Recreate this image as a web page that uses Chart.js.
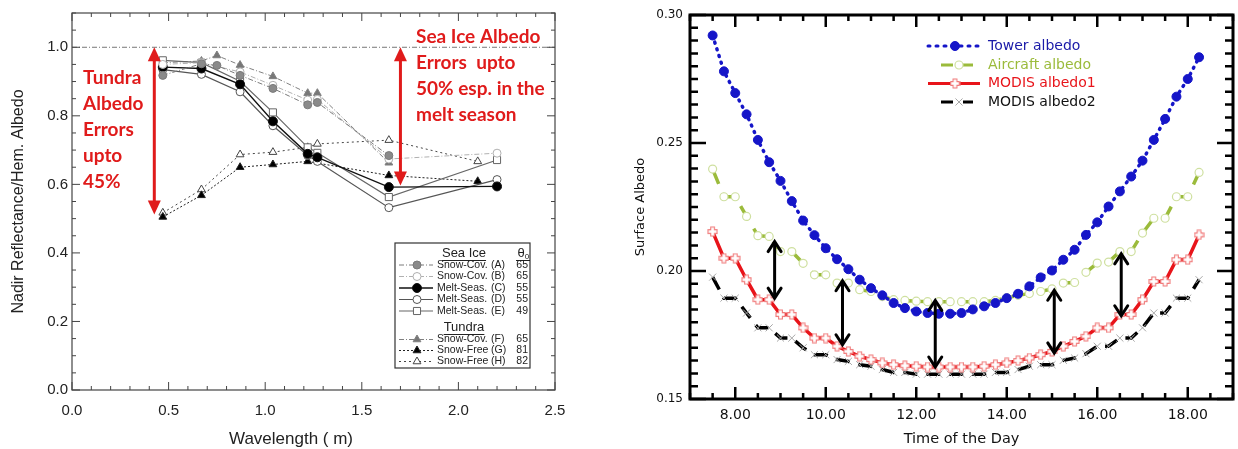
<!DOCTYPE html>
<html>
<head>
<meta charset="utf-8">
<script src="https://cdn.jsdelivr.net/npm/chart.js@4"></script>
<style>
  body { margin: 0; background: #fff; width: 1238px; height: 449px; overflow: hidden; position: relative; }
  canvas { position: absolute; top: 0; }
  #specChart { left: 0; width: 600px; height: 449px; }
  #dayChart { left: 600px; width: 638px; height: 449px; }
</style>
</head>
<body>
<canvas id="specChart" width="600" height="449"></canvas>
<canvas id="dayChart" width="638" height="449"></canvas>
<script>
// ---- spectral albedo: sea ice (A-E) and tundra (F-H) ----
const wlSeaA = [0.47, 0.67, 0.75, 0.87, 1.04, 1.22, 1.27, 1.64];
const albSeaA = [0.918, 0.952, 0.947, 0.918, 0.880, 0.832, 0.839, 0.684];
const wlSea = [0.47, 0.67, 0.87, 1.04, 1.22, 1.27, 1.64, 2.2];
const albSeaB = [0.950, 0.955, 0.928, 0.889, 0.846, 0.848, 0.674, 0.691];
const albSeaC = [0.942, 0.938, 0.892, 0.784, 0.689, 0.679, 0.592, 0.594];
const albSeaD = [0.935, 0.921, 0.870, 0.771, 0.684, 0.667, 0.532, 0.614];
const albSeaE = [0.962, 0.955, 0.901, 0.810, 0.708, 0.692, 0.563, 0.671];
const wlTundF = [0.47, 0.67, 0.75, 0.87, 1.04, 1.22, 1.27, 1.64];
const albTundF = [0.955, 0.960, 0.976, 0.948, 0.915, 0.866, 0.866, 0.663];
const wlTundG = [0.47, 0.67, 0.87, 1.04, 1.22, 1.64, 2.1];
const albTundG = [0.505, 0.568, 0.650, 0.658, 0.667, 0.626, 0.609];
const wlTundH = [0.47, 0.67, 0.87, 1.04, 1.22, 1.27, 1.64, 2.1];
const albTundH = [0.517, 0.585, 0.687, 0.694, 0.708, 0.718, 0.729, 0.667];

const specXTicks = [0.0, 0.5, 1.0, 1.5, 2.0, 2.5];
const specYTicks = [0.0, 0.2, 0.4, 0.6, 0.8, 1.0];

const legendNames = ['Snow-Cov.', 'Snow-Cov.', 'Melt-Seas.', 'Melt-Seas.', 'Melt-Seas.', 'Snow-Cov.', 'Snow-Free', 'Snow-Free'];
const legendTags = ['(A)', '(B)', '(C)', '(D)', '(E)', '(F)', '(G)', '(H)'];
const legendAngles = ['65', '65', '55', '55', '49', '65', '81', '82'];

// error ranges marked with red arrows (wavelength, top, bottom)
const errWl = [0.426, 1.70];
const errTop = [1.0, 1.0];
const errBottom = [0.512, 0.597];
const tundraNote = ['Tundra', 'Albedo', 'Errors', 'upto', '45%'];
const seaIceNote = ['Sea Ice Albedo', 'Errors  upto', '50% esp. in the', 'melt season'];

// ---- diurnal albedo ----
const hours = [7.5, 7.75, 8.0, 8.25, 8.5, 8.75, 9.0, 9.25, 9.5, 9.75,
  10.0, 10.25, 10.5, 10.75, 11.0, 11.25, 11.5, 11.75, 12.0, 12.25,
  12.5, 12.75, 13.0, 13.25, 13.5, 13.75, 14.0, 14.25, 14.5, 14.75,
  15.0, 15.25, 15.5, 15.75, 16.0, 16.25, 16.5, 16.75, 17.0, 17.25,
  17.5, 17.75, 18.0, 18.25];
const towerAlbedo = [0.2920, 0.2780, 0.2695, 0.2612, 0.2512, 0.2425, 0.2352, 0.2273, 0.2197, 0.2140,
  0.2089, 0.2046, 0.2007, 0.1966, 0.1933, 0.1905, 0.1875, 0.1855, 0.1842, 0.1836,
  0.1833, 0.1833, 0.1836, 0.1850, 0.1862, 0.1875, 0.1894, 0.1911, 0.1940, 0.1975,
  0.2002, 0.2044, 0.2083, 0.2141, 0.2190, 0.2252, 0.2311, 0.2369, 0.2431, 0.2512,
  0.2594, 0.2681, 0.2750, 0.2835];
const aircraftAlbedo = [0.2398, 0.2290, 0.2290, 0.2213, 0.2138, 0.2135, 0.2076, 0.2076, 0.2030, 0.1985,
  0.1985, 0.1953, 0.1953, 0.1927, 0.1920, 0.1900, 0.1888, 0.1885, 0.1882, 0.1880,
  0.1880, 0.1880, 0.1880, 0.1880, 0.1880, 0.1885, 0.1895, 0.1905, 0.1912, 0.1920,
  0.1930, 0.1953, 0.1955, 0.1995, 0.2031, 0.2035, 0.2076, 0.2076, 0.2148, 0.2206,
  0.2206, 0.2290, 0.2290, 0.2385];
const modisAlbedo1 = [0.2154, 0.2050, 0.2050, 0.1966, 0.1888, 0.1888, 0.1830, 0.1830, 0.1778, 0.1738,
  0.1738, 0.1706, 0.1686, 0.1667, 0.1654, 0.1641, 0.1634, 0.1630, 0.1628, 0.1625,
  0.1625, 0.1625, 0.1625, 0.1625, 0.1628, 0.1634, 0.1641, 0.1650, 0.1660, 0.1673,
  0.1686, 0.1706, 0.1725, 0.1745, 0.1778, 0.1778, 0.1830, 0.1830, 0.1888, 0.1959,
  0.1959, 0.2044, 0.2044, 0.2141];
const modisAlbedo2 = [0.1976, 0.1894, 0.1894, 0.1836, 0.1778, 0.1778, 0.1738, 0.1738, 0.1700, 0.1673,
  0.1673, 0.1654, 0.1647, 0.1634, 0.1628, 0.1615, 0.1604, 0.1604, 0.1597, 0.1597,
  0.1597, 0.1597, 0.1597, 0.1597, 0.1597, 0.1604, 0.1604, 0.1615, 0.1628, 0.1634,
  0.1634, 0.1651, 0.1660, 0.1677, 0.1706, 0.1706, 0.1738, 0.1738, 0.1778, 0.1836,
  0.1836, 0.1894, 0.1894, 0.1966];

const dayXTicks = [8, 10, 12, 14, 16, 18];
const dayYTicks = [0.15, 0.20, 0.25, 0.30];
const seriesNames = ['Tower albedo', 'Aircraft albedo', 'MODIS albedo1', 'MODIS albedo2'];

// gaps between aircraft and MODIS1 (hour, upper, lower)
const gapHours = [8.87, 10.37, 12.42, 15.05, 16.53];
const gapTop = [0.2115, 0.1962, 0.1885, 0.1925, 0.2067];
const gapBottom = [0.1894, 0.1712, 0.1625, 0.1680, 0.1825];

const pts = (xs, ys) => xs.map((x, i) => ({ x: x, y: ys[i] }));

function arrow(ctx, x, y1, y2, head, halfW, filled) {
  ctx.beginPath();
  ctx.moveTo(x, y1 + (filled ? head * 0.6 : 1));
  ctx.lineTo(x, y2 - (filled ? head * 0.6 : 1));
  ctx.stroke();
  [[y1, 1], [y2, -1]].forEach(([y, d]) => {
    ctx.beginPath();
    ctx.moveTo(x - halfW, y + d * head);
    ctx.lineTo(x, y);
    ctx.lineTo(x + halfW, y + d * head);
    if (filled) { ctx.closePath(); ctx.fill(); } else { ctx.stroke(); }
  });
}

function marker(ctx, ds, x, y) {
  ctx.save();
  ctx.fillStyle = ds.pointBackgroundColor;
  ctx.strokeStyle = ds.pointBorderColor;
  ctx.lineWidth = ds.pointBorderWidth;
  Chart.helpers.drawPoint(ctx, {
    pointStyle: ds.pointStyle, rotation: 0, radius: ds.pointRadius, borderWidth: ds.pointBorderWidth
  }, x, y);
  ctx.restore();
}

// ---- left panel: frame, 1.0 reference, arrows, notes and legend ----
const specFrame = {
  id: 'specFrame',
  beforeDatasetsDraw(chart) {
    const { ctx, chartArea: a, scales: { y } } = chart;
    const py = y.getPixelForValue(1.0);
    ctx.save();
    ctx.strokeStyle = '#777';
    ctx.lineWidth = 1;
    ctx.setLineDash([5, 2, 1, 2]);
    ctx.beginPath();
    ctx.moveTo(a.left, py);
    ctx.lineTo(a.right, py);
    ctx.stroke();
    ctx.restore();
  },
  afterDraw(chart) {
    const { ctx, chartArea: a, scales: { x, y } } = chart;
    ctx.save();
    ctx.strokeStyle = '#444';
    ctx.lineWidth = 1.2;
    ctx.strokeRect(a.left, a.top, a.right - a.left, a.bottom - a.top);
    ctx.lineWidth = 1;
    for (let i = 0; i <= 25; i++) {
      const px = x.getPixelForValue(i / 10);
      const len = i % 5 === 0 ? 8 : 4;
      ctx.beginPath();
      ctx.moveTo(px, a.bottom); ctx.lineTo(px, a.bottom - len);
      ctx.moveTo(px, a.top); ctx.lineTo(px, a.top + len);
      ctx.stroke();
    }
    for (let i = 0; i <= 22; i++) {
      const py = y.getPixelForValue(i / 20);
      const len = i % 4 === 0 ? 8 : 4;
      ctx.beginPath();
      ctx.moveTo(a.left, py); ctx.lineTo(a.left + len, py);
      ctx.moveTo(a.right, py); ctx.lineTo(a.right - len, py);
      ctx.stroke();
    }

    // red error arrows
    ctx.strokeStyle = '#e01b1b';
    ctx.fillStyle = '#e01b1b';
    ctx.lineWidth = 3;
    errWl.forEach((w, i) => {
      arrow(ctx, x.getPixelForValue(w), y.getPixelForValue(errTop[i]), y.getPixelForValue(errBottom[i]), 14, 6.5, true);
    });
    ctx.font = 'bold 19px Lato';
    ctx.textBaseline = 'middle';
    ctx.textAlign = 'left';
    tundraNote.forEach((t, i) => ctx.fillText(t, 83, 78 + i * 26));
    seaIceNote.forEach((t, i) => ctx.fillText(t, 416, 37 + i * 26));

    // x axis title, centred under the labelled part of the axis
    ctx.fillStyle = '#222';
    ctx.font = '17px "Liberation Sans"';
    ctx.textAlign = 'center';
    ctx.fillText('Wavelength ( m)', 291, 439);

    // legend box
    const bx = 395, by = 243, bw = 135, bh = 125;
    ctx.fillStyle = '#fff';
    ctx.fillRect(bx, by, bw, bh);
    ctx.strokeStyle = '#333';
    ctx.lineWidth = 1.2;
    ctx.strokeRect(bx, by, bw, bh);
    ctx.fillStyle = '#222';
    ctx.font = '13px "Liberation Sans"';
    ctx.textAlign = 'center';
    const heads = [['Sea Ice', 253], ['Tundra', 327]];
    heads.forEach(([t, hy]) => {
      ctx.fillText(t, 464, hy);
      const w = ctx.measureText(t).width;
      ctx.fillRect(464 - w / 2, hy + 7, w, 1);
    });
    ctx.fillText('\u03B8', 521, 253);
    ctx.font = '8px "Liberation Sans"';
    ctx.fillText('0', 527, 257);
    ctx.fillRect(516, 260, 14, 1);
    const rowY = [265, 276.5, 288, 299.5, 311, 339.5, 350.5, 361.5];
    ctx.font = '10.5px "Liberation Sans"';
    chart.data.datasets.forEach((ds, i) => {
      const ry = rowY[i];
      ctx.save();
      ctx.strokeStyle = ds.borderColor;
      ctx.lineWidth = ds.borderWidth;
      ctx.setLineDash(ds.borderDash || []);
      ctx.beginPath();
      ctx.moveTo(399, ry); ctx.lineTo(433, ry);
      ctx.stroke();
      ctx.restore();
      marker(ctx, ds, 417, ry);
      ctx.fillStyle = '#222';
      ctx.textAlign = 'left';
      ctx.fillText(legendNames[i], 437, ry);
      ctx.fillText(legendTags[i], 491, ry);
      ctx.textAlign = 'right';
      ctx.fillText(legendAngles[i], 528, ry);
    });
    ctx.restore();
  }
};

const specSeries = (label, xs, ys, color, dash, style, fill, radius, width) => ({
  label: label,
  data: pts(xs, ys),
  borderColor: color,
  borderWidth: width,
  borderDash: dash,
  pointStyle: style,
  pointRadius: radius,
  pointBackgroundColor: fill,
  pointBorderColor: color,
  pointBorderWidth: 1,
  showLine: true,
  tension: 0
});

new Chart(document.getElementById('specChart'), {
  type: 'scatter',
  data: {
    datasets: [
      specSeries('A', wlSeaA, albSeaA, '#7a7a7a', [5, 2, 1, 2], 'circle', '#8a8a8a', 4, 1),
      specSeries('B', wlSea, albSeaB, '#b0b0b0', [5, 2, 1, 2], 'circle', '#ffffff', 4, 1),
      specSeries('C', wlSea, albSeaC, '#111111', [], 'circle', '#000000', 4.5, 1.4),
      specSeries('D', wlSea, albSeaD, '#555555', [], 'circle', '#ffffff', 4, 1.2),
      specSeries('E', wlSea, albSeaE, '#666666', [], 'rect', '#ffffff', 5, 1.2),
      specSeries('F', wlTundF, albTundF, '#808080', [5, 2, 1, 2], 'triangle', '#777777', 4.5, 1),
      specSeries('G', wlTundG, albTundG, '#222222', [2, 2], 'triangle', '#000000', 4.5, 1),
      specSeries('H', wlTundH, albTundH, '#444444', [2, 3], 'triangle', '#ffffff', 4.5, 1)
    ]
  },
  options: {
    responsive: false,
    animation: false,
    layout: { padding: { top: 10, right: 45, left: 0, bottom: 0 }, autoPadding: false },
    plugins: { legend: { display: false }, tooltip: { enabled: false } },
    scales: {
      x: {
        type: 'linear', min: 0, max: 2.5,
        afterBuildTicks: s => { s.ticks = specXTicks.map(v => ({ value: v })); },
        afterFit: s => { s.height = 59; },
        grid: { display: false, drawTicks: false },
        border: { display: false },
        ticks: { padding: 12, color: '#222', font: { family: 'Liberation Sans', size: 15 }, callback: v => v.toFixed(1) },
        title: { display: false }
      },
      y: {
        type: 'linear', min: 0, max: 1.1,
        afterBuildTicks: s => { s.ticks = specYTicks.map(v => ({ value: v })); },
        afterFit: s => { s.width = 72; },
        grid: { display: false, drawTicks: false },
        border: { display: false },
        ticks: { padding: 4, color: '#222', font: { family: 'Liberation Sans', size: 15 }, callback: v => v.toFixed(1) },
        title: { display: true, text: 'Nadir Reflectance/Hem. Albedo', color: '#222', padding: { top: 9, bottom: 0 }, font: { family: 'Liberation Sans', size: 16 } }
      }
    }
  },
  plugins: [specFrame]
});

// ---- right panel ----
function hollowPlus(size, color) {
  const c = document.createElement('canvas');
  c.width = c.height = size;
  const g = c.getContext('2d');
  const m = size / 2, s = size / 2 - 1, t = size * 0.17;
  const poly = [[-t, -s], [t, -s], [t, -t], [s, -t], [s, t], [t, t], [t, s], [-t, s], [-t, t], [-s, t], [-s, -t], [-t, -t]];
  g.beginPath();
  poly.forEach(([px, py], i) => (i ? g.lineTo(m + px, m + py) : g.moveTo(m + px, m + py)));
  g.closePath();
  g.fillStyle = '#fff';
  g.fill();
  g.strokeStyle = color;
  g.lineWidth = 1.1;
  g.stroke();
  return c;
}
const plusIcon = hollowPlus(11, '#f07a7a');

const dayFrame = {
  id: 'dayFrame',
  afterDraw(chart) {
    const { ctx, chartArea: a, scales: { x, y } } = chart;
    ctx.save();
    ctx.strokeStyle = '#000';
    ctx.lineWidth = 3;
    ctx.strokeRect(a.left, a.top, a.right - a.left, a.bottom - a.top);
    ctx.lineWidth = 2.5;
    for (let i = 14; i <= 38; i++) {
      const px = x.getPixelForValue(i / 2);
      const len = i % 4 === 0 ? 12 : 6;
      ctx.beginPath();
      ctx.moveTo(px, a.bottom); ctx.lineTo(px, a.bottom - len);
      ctx.moveTo(px, a.top); ctx.lineTo(px, a.top + len);
      ctx.stroke();
    }
    for (let i = 30; i <= 60; i++) {
      const py = y.getPixelForValue(i / 200);
      const len = i % 10 === 0 ? 16 : 8;
      ctx.beginPath();
      ctx.moveTo(a.left, py); ctx.lineTo(a.left + len, py);
      ctx.moveTo(a.right, py); ctx.lineTo(a.right - len, py);
      ctx.stroke();
    }

    // double arrows between aircraft and MODIS1
    ctx.strokeStyle = '#000';
    ctx.lineWidth = 3;
    ctx.lineCap = 'round';
    gapHours.forEach((h, i) => {
      arrow(ctx, x.getPixelForValue(h), y.getPixelForValue(gapTop[i]), y.getPixelForValue(gapBottom[i]), 10, 6.5, false);
    });
    ctx.restore();

    // legend
    const rowY = [46, 65, 83.5, 102];
    const lineStart = [328, 341, 328, 341];
    const textColors = ['#1a1aa8', '#9bbb3b', '#e8141a', '#111'];
    ctx.save();
    ctx.font = '14px "DejaVu Sans"';
    ctx.textBaseline = 'middle';
    chart.data.datasets.forEach((ds, i) => {
      const ry = rowY[i];
      ctx.save();
      ctx.strokeStyle = ds.borderColor;
      ctx.lineWidth = 3;
      ctx.lineCap = i === 0 ? 'round' : 'butt';
      ctx.setLineDash(i === 0 ? [2, 6] : (i === 2 ? [] : [12, 8]));
      ctx.beginPath();
      ctx.moveTo(lineStart[i], ry); ctx.lineTo(380, ry);
      ctx.stroke();
      ctx.restore();
      const mx = i === 0 || i === 2 ? 355 : 359;
      ctx.save();
      ctx.fillStyle = '#fff';
      if (i !== 0) ctx.fillRect(mx - 4, ry - 4, 8, 8);
      ctx.restore();
      marker(ctx, ds, mx, ry);
      ctx.fillStyle = textColors[i];
      ctx.fillText(seriesNames[i], 388, ry);
    });
    ctx.restore();
  }
};

new Chart(document.getElementById('dayChart'), {
  type: 'scatter',
  data: {
    datasets: [
      {
        label: seriesNames[0], data: pts(hours, towerAlbedo), showLine: true,
        borderColor: '#1515c8', borderWidth: 3.5, borderDash: [1, 6], borderCapStyle: 'round',
        pointStyle: 'circle', pointRadius: 4.5, pointBackgroundColor: '#1515c8', pointBorderColor: '#1515c8', pointBorderWidth: 1
      },
      {
        label: seriesNames[1], data: pts(hours, aircraftAlbedo), showLine: true,
        borderColor: '#9bbb3b', borderWidth: 3.5, borderDash: [16, 10],
        pointStyle: 'circle', pointRadius: 4, pointBackgroundColor: '#ffffff', pointBorderColor: '#cfe0a0', pointBorderWidth: 1.2
      },
      {
        label: seriesNames[2], data: pts(hours, modisAlbedo1), showLine: true,
        borderColor: '#e8141a', borderWidth: 3.5, borderDash: [],
        pointStyle: plusIcon, pointRadius: 5, pointBackgroundColor: '#ffffff', pointBorderColor: '#f07a7a', pointBorderWidth: 1
      },
      {
        label: seriesNames[3], data: pts(hours, modisAlbedo2), showLine: true,
        borderColor: '#000000', borderWidth: 3.5, borderDash: [14, 9],
        pointStyle: 'crossRot', pointRadius: 5, pointBackgroundColor: '#ffffff', pointBorderColor: '#a8a8a8', pointBorderWidth: 1
      }
    ]
  },
  options: {
    responsive: false,
    animation: false,
    layout: { padding: { top: 15, right: 5, left: 0, bottom: 0 }, autoPadding: false },
    plugins: { legend: { display: false }, tooltip: { enabled: false } },
    scales: {
      x: {
        type: 'linear', min: 7, max: 19,
        afterBuildTicks: s => { s.ticks = dayXTicks.map(v => ({ value: v })); },
        afterFit: s => { s.height = 50; },
        grid: { display: false, drawTicks: false },
        border: { display: false },
        ticks: { padding: 8, color: '#111', font: { family: 'DejaVu Sans', size: 14 }, callback: v => v.toFixed(2) },
        title: { display: true, text: 'Time of the Day', color: '#111', padding: { top: 0, bottom: 1 }, font: { family: 'DejaVu Sans', size: 14.5 } }
      },
      y: {
        type: 'linear', min: 0.15, max: 0.30,
        afterBuildTicks: s => { s.ticks = dayYTicks.map(v => ({ value: v })); },
        afterFit: s => { s.width = 90; },
        grid: { display: false, drawTicks: false },
        border: { display: false },
        ticks: { padding: 7, color: '#111', font: { family: 'DejaVu Sans', size: 12 }, callback: v => v.toFixed(2) },
        title: { display: true, text: 'Surface Albedo', color: '#111', padding: { top: 33, bottom: 0 }, font: { family: 'DejaVu Sans', size: 13 } }
      }
    }
  },
  plugins: [dayFrame]
});
</script>
</body>
</html>
